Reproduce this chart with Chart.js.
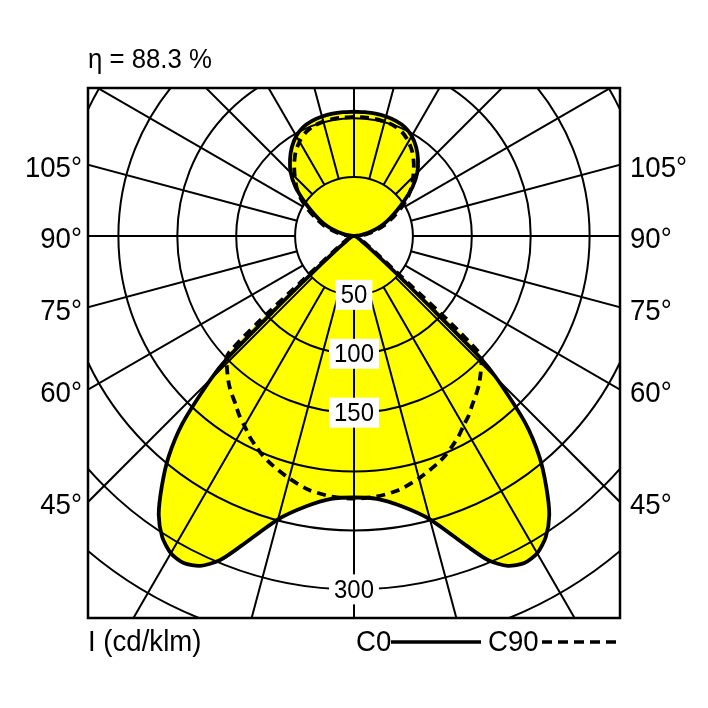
<!DOCTYPE html>
<html>
<head>
<meta charset="utf-8">
<script src="https://cdn.jsdelivr.net/npm/chart.js@4.4.1/dist/chart.umd.min.js"></script>
<style>
  html, body { margin: 0; padding: 0; background: #fff; }
  canvas { display: block; }
</style>
</head>
<body>
<canvas id="ldc" width="708" height="708"></canvas>
<script>
// gamma angles (deg from nadir) and intensities in cd/klm
const ANGLES = [0, 5, 10, 15, 20, 22.5, 25, 27.5, 30, 32.5, 35, 37.5, 40, 42.5, 45, 46, 47, 48, 49, 50,
                52.5, 55, 60, 70, 80, 90, 95, 100, 105, 110, 115, 120, 125, 130, 135, 140, 145, 150,
                155, 160, 165, 170, 175, 180];
const C0 = [222, 224, 233, 249, 280, 298, 309, 313, 311, 303, 289, 268, 245, 215, 172, 150, 92, 58, 40, 28,
            15, 9, 5, 2.5, 1, 0, 4, 9, 16, 24, 32, 41, 52, 65, 76, 84.5, 92, 98,
            102, 104, 105, 105.5, 105.5, 105.5];
const C90 = [223, 222, 219, 213, 206, 202, 197, 192, 186, 181, 175, 170, 165, 159, 153, 151, 145, 110, 62, 42,
             23, 15, 8.5, 4.5, 2.5, 0, 7, 13, 20, 28, 36, 45, 55, 63.5, 71, 79, 86.5, 92.5,
             97, 99.5, 100.5, 101, 101, 101];

const RINGS = [50, 100, 150, 200, 250, 300, 350, 400, 450];
const RING_LABELS = [50, 100, 150, 300];
const SIDE_LABELS = [105, 90, 75, 60, 45];
const ETA = 'η = 88.3 %';

const FONT = "'Liberation Sans', Arial, sans-serif";
const SQUEEZE = 0.92;   // narrow look of the original lettering

// polar (gamma, I) -> x/y with nadir pointing down, closed loop over both halves
function toLoop(vals) {
    const pts = [];
    for (let i = ANGLES.length - 1; i >= 0; i--) {
        const a = ANGLES[i] * Math.PI / 180;
        pts.push({ x: -vals[i] * Math.sin(a), y: -vals[i] * Math.cos(a) });
    }
    for (let i = 1; i < ANGLES.length; i++) {
        const a = ANGLES[i] * Math.PI / 180;
        pts.push({ x: vals[i] * Math.sin(a), y: -vals[i] * Math.cos(a) });
    }
    return pts;
}

function ptAt(chart, gammaDeg, r) {
    const a = gammaDeg * Math.PI / 180;
    const xs = chart.scales.x, ys = chart.scales.y;
    return [xs.getPixelForValue(r * Math.sin(a)), ys.getPixelForValue(-r * Math.cos(a))];
}

function text(ctx, str, x, y, align, size) {
    ctx.save();
    ctx.font = size + 'px ' + FONT;
    ctx.textAlign = align;
    ctx.textBaseline = 'middle';
    ctx.translate(x, y);
    ctx.scale(SQUEEZE, 1);
    ctx.fillText(str, 0, 0);
    ctx.restore();
}

const polarGrid = {
    id: 'polarGrid',
    beforeDatasetsDraw(chart) {
        const ctx = chart.ctx, area = chart.chartArea;
        const xs = chart.scales.x, ys = chart.scales.y;
        const cx = xs.getPixelForValue(0), cy = ys.getPixelForValue(0);
        ctx.save();
        ctx.beginPath();
        ctx.rect(area.left, area.top, area.right - area.left, area.bottom - area.top);
        ctx.clip();
        ctx.strokeStyle = '#000';
        ctx.lineWidth = 2;
        RINGS.forEach(r => {
            const rp = xs.getPixelForValue(r) - cx;
            ctx.beginPath();
            ctx.arc(cx, cy, rp, 0, Math.PI * 2);
            ctx.stroke();
        });
        for (let g = 0; g < 360; g += 15) {
            const p0 = ptAt(chart, g, RINGS[0]);
            const p1 = ptAt(chart, g, 700);
            ctx.beginPath();
            ctx.moveTo(p0[0], p0[1]);
            ctx.lineTo(p1[0], p1[1]);
            ctx.stroke();
        }
        ctx.restore();
    },
    afterDatasetsDraw(chart) {
        const ctx = chart.ctx, area = chart.chartArea;
        const xs = chart.scales.x, ys = chart.scales.y;
        const cx = xs.getPixelForValue(0), cy = ys.getPixelForValue(0);
        ctx.save();
        ctx.fillStyle = '#000';
        // ring value labels on the nadir ray
        ctx.font = '26px ' + FONT;
        RING_LABELS.forEach(v => {
            const p = ptAt(chart, 0, v);
            const w = ctx.measureText(String(v)).width * SQUEEZE;
            ctx.fillStyle = '#fff';
            ctx.fillRect(p[0] - w / 2 - 5, p[1] - 15, w + 10, 30);
            ctx.fillStyle = '#000';
            text(ctx, String(v), p[0], p[1] + 1, 'center', 26);
        });
        // frame
        ctx.strokeStyle = '#000';
        ctx.lineWidth = 2.5;
        ctx.strokeRect(area.left, area.top, area.right - area.left, area.bottom - area.top);

        // angle labels where the rays meet the frame sides
        const halfW = cx - area.left;
        SIDE_LABELS.forEach(g => {
            const yl = cy + halfW / Math.tan(g * Math.PI / 180);
            text(ctx, g + '°', area.left - 6, yl + 4, 'right', 30);
            text(ctx, g + '°', area.right + 10, yl + 4, 'left', 30);
        });

        // title
        text(ctx, ETA, area.left, 60, 'left', 28);

        // unit and legend
        const ly = area.bottom + 25;
        text(ctx, 'I (cd/klm)', area.left, ly, 'left', 30);
        text(ctx, 'C0', 356, ly, 'left', 30);
        text(ctx, 'C90', 488, ly, 'left', 30);
        ctx.lineWidth = 3.5;
        ctx.beginPath();
        ctx.moveTo(391, ly - 1);
        ctx.lineTo(481, ly - 1);
        ctx.stroke();
        ctx.setLineDash([10, 6]);
        ctx.beginPath();
        ctx.moveTo(542, ly - 1);
        ctx.lineTo(616, ly - 1);
        ctx.stroke();
        ctx.restore();
    }
};

new Chart(document.getElementById('ldc'), {
    type: 'line',
    data: {
        datasets: [{
            label: 'C0',
            data: toLoop(C0),
            borderColor: '#000',
            borderWidth: 3.8,
            backgroundColor: '#ffff00',
            fill: 'shape',
            tension: 0.25,
            pointRadius: 0
        }, {
            label: 'C90',
            data: toLoop(C90),
            borderColor: '#000',
            borderWidth: 3.8,
            borderDash: [9, 6],
            backgroundColor: '#ffff00',
            fill: 'shape',
            tension: 0.25,
            pointRadius: 0
        }]
    },
    options: {
        responsive: false,
        animation: false,
        devicePixelRatio: 1,
        layout: { padding: { left: 88, top: 88, right: 88, bottom: 90 } },
        scales: {
            x: { type: 'linear', display: false, min: -225.8, max: 225.8 },
            y: { type: 'linear', display: false, min: -324.3, max: 125.6 }
        },
        plugins: {
            legend: { display: false },
            tooltip: { enabled: false },
            filler: { drawTime: 'beforeDatasetsDraw' }
        }
    },
    plugins: [polarGrid]
});
</script>
</body>
</html>
